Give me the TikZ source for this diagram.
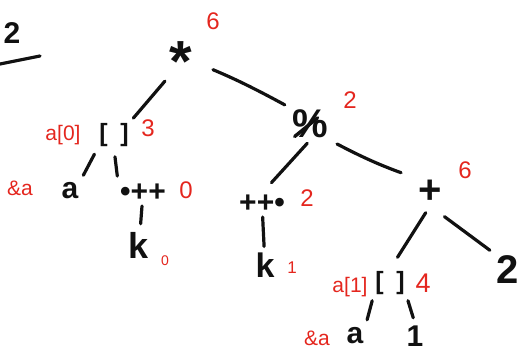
\documentclass[tikz,border=0pt]{standalone}
\usepackage{fontspec}
\setmainfont{Liberation Sans}
\usetikzlibrary{positioning}
\definecolor{penink}{HTML}{111111}
\definecolor{penred}{HTML}{E4261E}

\begin{document}
\begin{tikzpicture}[
  x=1pt, y=-1pt, line cap=round, line join=round,
  op/.style={font=\fontsize{30}{30}\selectfont\bfseries, text=penink, inner sep=2pt},
  bigop/.style={op, font=\fontsize{40}{40}\selectfont\bfseries},
  cnt/.style={font=\fontsize{24}{24}\selectfont, text=penred, inner sep=1pt},
  note/.style={font=\fontsize{21}{21}\selectfont, text=penred, inner sep=1pt},
  edge/.style={draw=penink, line width=3.2pt, shorten <=4pt, shorten >=4pt}]
\useasboundingbox (0,0) rectangle (521,360);

% ------------------------------------------------ leftover from the last board
\node[op] (prev) at (12,33) {2};
\draw[penink, line width=3.2pt] (0,64) -- (40,56);

% ------------------------------------------------------------------- the tree
\node[bigop, font=\fontsize{58}{58}\selectfont\bfseries] (star) at (181,62) {*};
\node[cnt] (cstar) at (213,21) {6};

\node[op, font=\fontsize{25}{25}\selectfont\bfseries] (idx0) at (114,135) {[\enspace]};
\node[note] (nidx0) at (63,135) {a[0]};
\node[cnt] (cidx0) at (148,128) {3};

\node[op] (a0) at (70,191) {a};
\node[note] (na0) at (20,188) {\&a};
\node[op] (inc) at (143,193) {•++};
\node[cnt] (cinc) at (186,190) {0};
\node[op, font=\fontsize{36}{36}\selectfont\bfseries] (k0) at (139,245) {k};
\node[cnt, font=\fontsize{14}{14}\selectfont] (ck0) at (165,261) {0};

\node[bigop] (mod) at (310,124) {\%};
\node[cnt] (cmod) at (350,100) {2};

\node[op] (pinc) at (262,204) {++•};
\node[cnt] (cpinc) at (307,198) {2};
\node[op, font=\fontsize{34}{34}\selectfont\bfseries] (k1) at (265,265) {k};
\node[cnt, font=\fontsize{17}{17}\selectfont] (ck1) at (292,268) {1};

\node[bigop] (plus) at (430,192) {+};
\node[cnt] (cplus) at (465,170) {6};
\node[bigop] (two) at (508,270) {2};

\node[op, font=\fontsize{25}{25}\selectfont\bfseries] (idx1) at (390,283) {[\enspace]};
\node[note] (nidx1) at (350,287) {a[1]};
\node[cnt, font=\fontsize{27}{27}\selectfont] (cidx1) at (423,283) {4};
\node[op] (a1) at (355,336) {a};
\node[note] (na1) at (317,338) {\&a};
\node[op] (one) at (415,336) {1};

% the stroke through the operator
\draw[penink, line width=3.4pt, shorten <=6pt, shorten >=16pt]
  (mod.south west) -- (mod.north east);

% edges
\draw[edge, shorten <=4pt] (star.-130) -- (idx0.north east);
\draw[edge, shorten <=20pt, shorten >=6pt] (star.east) to[bend left=3] (mod.north west);
\draw[edge, shorten <=6pt, shorten >=6pt] (idx0.south west) -- (a0.north east);
\draw[edge, shorten <=8pt, shorten >=6pt] (idx0.south) -- (inc.north west);
\draw[edge, shorten <=2pt, shorten >=6pt] (inc) -- (k0);
\draw[edge, shorten <=4pt, shorten >=14pt] (mod.south) -- (pinc.north);
\draw[edge, shorten <=8pt, shorten >=16pt] (mod.south east) to[bend right=4] (plus.north west);
\draw[edge, shorten <=2pt, shorten >=4pt] (pinc) -- (k1);
\draw[edge, shorten <=8pt, shorten >=14pt] (plus.south) -- (idx1.north);
\draw[edge, shorten <=18pt, shorten >=6pt] (plus.south) -- (two.north west);
\draw[edge, shorten <=4pt, shorten >=6pt] (idx1.south west) -- (a1.north east);
\draw[edge, shorten <=4pt, shorten >=6pt] (idx1.south east) -- (one.north);

\end{tikzpicture}
\end{document}
